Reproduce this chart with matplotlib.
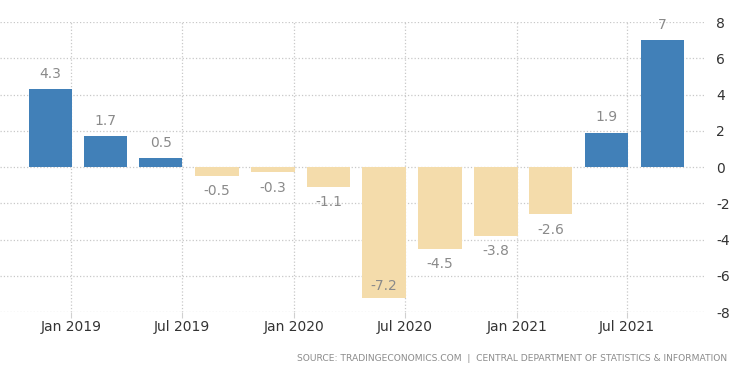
import numpy as np
import pandas as pd
import matplotlib
matplotlib.use("Agg")
from matplotlib import pyplot as plt
import matplotlib.dates as mdates
from matplotlib.ticker import FuncFormatter

# quarterly GDP growth, Q4 2018 .. Q3 2021
quarters = ['2018Q4', '2019Q1', '2019Q2', '2019Q3', '2019Q4', '2020Q1',
            '2020Q2', '2020Q3', '2020Q4', '2021Q1', '2021Q2', '2021Q3']
values = [4.3, 1.7, 0.5, -0.5, -0.3, -1.1, -7.2, -4.5, -3.8, -2.6, 1.9, 7]
tick_dates = ['2019-01-01', '2019-07-01', '2020-01-01', '2020-07-01',
              '2021-01-01', '2021-07-01']
tick_labels = ['Jan 2019', 'Jul 2019', 'Jan 2020', 'Jul 2020', 'Jan 2021', 'Jul 2021']
source = 'SOURCE: TRADINGECONOMICS.COM  |  CENTRAL DEPARTMENT OF STATISTICS & INFORMATION'

blue = '#4180b8'
tan = '#f4dcab'
label_col = '#8a8a8a'

def plot_chart():
    ends = pd.PeriodIndex(quarters, freq='Q').end_time.normalize()
    x = mdates.date2num(ends - pd.Timedelta(days=33))
    fig = plt.figure(figsize=(7.5, 3.75), dpi=100)
    ax = fig.add_axes([0.0, 0.168, 0.94, 0.773])
    colors = [blue if v >= 0 else tan for v in values]
    ax.bar(x, values, width=71, color=colors, zorder=2)
    for xi, v in zip(x, values):
        txt = '%g' % v
        if v >= 0:
            ax.annotate(txt, (xi, v), xytext=(0, 6), textcoords='offset points',
                        ha='center', va='bottom', color=label_col, fontsize=10)
        elif v < -7:
            # no room below the bar, put the label inside it
            ax.annotate(txt, (xi, v), xytext=(0, 3), textcoords='offset points',
                        ha='center', va='bottom', color=label_col, fontsize=10)
        else:
            ax.annotate(txt, (xi, v), xytext=(0, -6), textcoords='offset points',
                        ha='center', va='top', color=label_col, fontsize=10)

    ax.set_xlim(mdates.datestr2num('2018-09-06'), mdates.datestr2num('2021-11-06'))
    ax.set_ylim(-8, 8)
    ax.set_yticks(np.arange(-8, 9, 2))
    ax.yaxis.set_major_formatter(FuncFormatter(lambda v, p: '%d' % v))
    ax.set_xticks(mdates.datestr2num(tick_dates))
    ax.set_xticklabels(tick_labels)
    ax.yaxis.tick_right()
    ax.tick_params(axis='both', labelsize=10, labelcolor='#333333')
    ax.tick_params(axis='y', length=0, pad=8)
    ax.tick_params(axis='x', length=4, color='#d0d0d0', pad=2)
    ax.grid(True, linestyle=':', color='#c8c8c8', linewidth=0.9, zorder=0)
    for s in ax.spines.values():
        s.set_visible(False)

    fig.text(0.969, 0.045, source, ha='right', va='center', fontsize=6.6,
             color='#8c8c8c')
    fig.savefig('out.png', dpi=100)


if __name__ == "__main__":
    plot_chart()
